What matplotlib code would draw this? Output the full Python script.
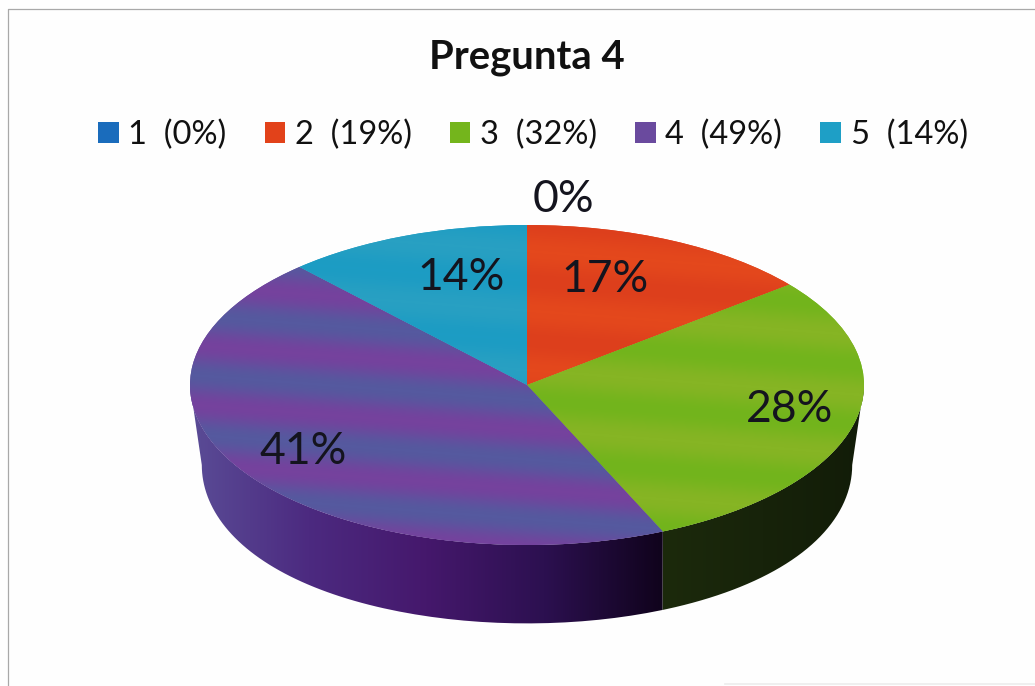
import matplotlib
matplotlib.use('Agg')
import matplotlib.pyplot as plt
import numpy as np
from matplotlib.colors import LinearSegmentedColormap
from matplotlib.patches import Patch, PathPatch
from matplotlib.path import Path

plt.rcParams['font.family'] = ['Lato', 'DejaVu Sans']

W, H = 1035, 686

title = 'Pregunta 4'
categories = ['1', '2', '3', '4', '5']
legend_pct = [0, 19, 32, 49, 14]
label_pct = [0, 17, 28, 41, 14]
# share of the drawn circle per slice (not the labels)
slice_shares = [0, 14.2, 29.2, 44.8, 11.8]

legend_colors = ['#1a6cbc', '#e2421a', '#74b51c', '#6a4a9e', '#1e9fc6']
top_bands = [None, ('#dd3f1c', '#e4481c'), ('#72b41c', '#86b524'),
             ('#55599f', '#75429d'), ('#1c9cc4', '#28a0c2')]
side_fades = [None, ('#601808', '#300a04'), ('#1c2a0c', '#121c08'),
              ('#5a4c96', '#4c2a80', '#45186c', '#2c1050', '#10031c'), ('#104a60', '#0a3040')]

label_xy = [(563, 200), (605, 280), (790, 410), (303, 452), (461, 278)]

fig = plt.figure(figsize=(W / 100, H / 100), dpi=100, facecolor='#fefefe')

# pie axes: unit circle maps on the top ellipse, rest of the height is the rim
cx, cy, rx, ry, depth = 527, 385, 337, 160, 80
ax = fig.add_axes([(cx - rx) / W, 1 - (cy + ry + depth) / H, 2 * rx / W, (2 * ry + depth) / H])
rim = depth / ry


def set_limits():
    ax.set_xlim(-1, 1)
    ax.set_ylim(-1 - rim, 1)
    ax.set_aspect('auto')
    ax.axis('off')


wedges, _ = ax.pie(slice_shares, startangle=90, counterclock=False, colors=legend_colors, radius=1)
set_limits()

# rim, only the front half of the circle shows
ends = 90 - np.cumsum(slice_shares) * 3.6
starts = np.r_[90, ends[:-1]]
for i, (a0, a1) in enumerate(zip(starts, ends)):
    if side_fades[i] is None:
        continue
    # angles go clockwise, bring them in the 180..360 band
    t_hi = a0 % 360 if a0 % 360 != 0 else 360
    t_lo = t_hi - (a0 - a1)
    t_lo, t_hi = max(t_lo, 180), min(t_hi, 360)
    if t_lo >= t_hi and t_hi > 0:
        t = (a0 + 360, a1 + 360)
        t_lo, t_hi = max(t[1], 180), min(t[0], 360)
    if t_lo >= t_hi:
        continue
    th = np.radians(np.linspace(t_lo, t_hi, 80))
    upper = np.c_[np.cos(th), np.sin(th)]
    # bottom edge is a bit narrower near the sides, keeps slice seams vertical
    squeeze = 1 - 0.035 * np.abs(np.cos(th)) ** 3
    lower = np.c_[squeeze * np.cos(th), 0.99 * np.sin(th) - rim]
    verts = np.r_[upper, lower[::-1], upper[:1]]
    patch = PathPatch(Path(verts), facecolor='none', edgecolor='none')
    ax.add_patch(patch)
    cmap = LinearSegmentedColormap.from_list('s%d' % i, side_fades[i])
    im = ax.imshow(np.linspace(0, 1, 256)[None, :], cmap=cmap, aspect='auto', zorder=2,
                   extent=[verts[:, 0].min(), verts[:, 0].max(), -1 - rim, 1])
    im.set_clip_path(patch)

# top face goes above the rim, with the soft diagonal bands of the original
yy, xx = np.mgrid[1:-1:320j, -1:1:674j]
for i, w in enumerate(wedges):
    w.set_zorder(3)
    if slice_shares[i] == 0:
        continue
    cmap = LinearSegmentedColormap.from_list('t%d' % i, top_bands[i])
    bands = 0.5 + 0.5 * np.sin((yy * 160 + xx * 25) / 9.5)
    im = ax.imshow(bands, cmap=cmap, aspect='auto', zorder=4, extent=[-1, 1, -1, 1])
    im.set_clip_path(w)
set_limits()

# overlay in pixel units for frame and text
top = fig.add_axes([0, 0, 1, 1], zorder=5)
top.set_xlim(0, W)
top.set_ylim(H, 0)
top.axis('off')
# scanned frame: only left and top survive, plus a faint trace bottom right
top.plot([8, 8, W], [H, 9, 9], color='#a8a8a8', linewidth=0.9)
top.plot([725, W], [684, 684], color='#ececec', linewidth=1.2)

top.text(cx, 58, title, fontsize=28.8, fontweight='bold', ha='center', va='center', color='#111111')
for pct, (x, y) in zip(label_pct, label_xy):
    top.text(x, y, '%d%%' % pct, fontsize=32, ha='center', va='center', color='#14141e')

handles = [Patch(facecolor=c, edgecolor='none') for c in legend_colors]
labels = ['%s  (%d%%)' % (c, p) for c, p in zip(categories, legend_pct)]
fig.legend(handles, labels, ncol=5, frameon=False, fontsize=23.5, loc='center',
           bbox_to_anchor=(533 / W, 1 - 135 / H), handlelength=0.62, handleheight=0.62,
           handletextpad=0.3, columnspacing=1.17, labelcolor='#111111')

fig.savefig('out.png', dpi=100)
